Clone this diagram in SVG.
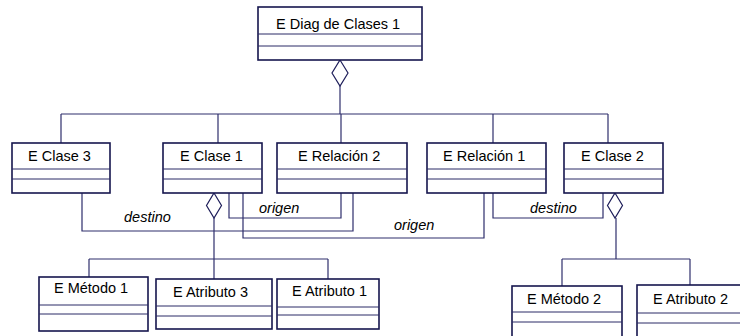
<svg xmlns="http://www.w3.org/2000/svg" width="740" height="336" viewBox="0 0 740 336">
<style>
.box{fill:#fff;stroke:#16164e;stroke-width:1.6}
.div{stroke:#2a2a66;stroke-width:1}
.ln{fill:none;stroke:#2e2e6c;stroke-width:1.2}
.dia{fill:#fff;stroke:#1e1e5a;stroke-width:1.2}
text{font-family:"Liberation Sans",Arial,sans-serif;font-size:14.5px;fill:#000}
.lbl{font-style:italic}
</style>
<rect width="740" height="336" fill="#fff"/>
<g id="connectors">
<polygon class="dia" points="340,60 348,73 340,86 332,73"/>
<polyline class="ln" points="340,86 340,114"/>
<polyline class="ln" points="61,114 608,114"/>
<polyline class="ln" points="61,114 61,143"/>
<polyline class="ln" points="218,114 218,143"/>
<polyline class="ln" points="341,114 341,143"/>
<polyline class="ln" points="493,114 493,143"/>
<polyline class="ln" points="608,114 608,143"/>
<polygon class="dia" points="214,193 221.5,205.5 214,218 206.5,205.5"/>
<polyline class="ln" points="214,218 214,259"/>
<polyline class="ln" points="89,259 328,259"/>
<polyline class="ln" points="89,259 89,277"/>
<polyline class="ln" points="214,259 214,279"/>
<polyline class="ln" points="328,259 328,279"/>
<polygon class="dia" points="615,193 622.5,205.5 615,218 607.5,205.5"/>
<polyline class="ln" points="616,218 616,259"/>
<polyline class="ln" points="562,259 690,259"/>
<polyline class="ln" points="562,259 562,286"/>
<polyline class="ln" points="690,259 690,285"/>
<polyline class="ln" points="82,193 82,231 353,231 353,193"/>
<polyline class="ln" points="229,193 229,218 341,218 341,193"/>
<polyline class="ln" points="243,193 243,238 484,238 484,193"/>
<polyline class="ln" points="493,193 493,218 603,218 603,193"/>
<text class="lbl" x="124" y="222">destino</text>
<text class="lbl" x="259" y="213">origen</text>
<text class="lbl" x="394" y="230">origen</text>
<text class="lbl" x="530" y="213">destino</text>
</g>
<g id="diag">
<rect class="box" x="258" y="7" width="164" height="53"/>
<line class="div" x1="258" y1="34" x2="422" y2="34"/>
<line class="div" x1="258" y1="46" x2="422" y2="46"/>
<text x="276" y="29">E Diag de Clases 1</text>
</g>
<g id="clase3">
<rect class="box" x="12" y="143" width="98" height="50"/>
<line class="div" x1="12" y1="169" x2="110" y2="169"/>
<line class="div" x1="12" y1="179" x2="110" y2="179"/>
<text x="28" y="161">E Clase 3</text>
</g>
<g id="clase1">
<rect class="box" x="163" y="143" width="99" height="50"/>
<line class="div" x1="163" y1="169" x2="262" y2="169"/>
<line class="div" x1="163" y1="179" x2="262" y2="179"/>
<text x="180" y="161">E Clase 1</text>
</g>
<g id="relacion2">
<rect class="box" x="277" y="143" width="130" height="50"/>
<line class="div" x1="277" y1="169" x2="407" y2="169"/>
<line class="div" x1="277" y1="179" x2="407" y2="179"/>
<text x="298" y="161">E Relación 2</text>
</g>
<g id="relacion1">
<rect class="box" x="427" y="143" width="119" height="50"/>
<line class="div" x1="427" y1="169" x2="546" y2="169"/>
<line class="div" x1="427" y1="179" x2="546" y2="179"/>
<text x="443" y="161">E Relación 1</text>
</g>
<g id="clase2">
<rect class="box" x="564" y="143" width="99" height="50"/>
<line class="div" x1="564" y1="169" x2="663" y2="169"/>
<line class="div" x1="564" y1="179" x2="663" y2="179"/>
<text x="581" y="161">E Clase 2</text>
</g>
<g id="metodo1">
<rect class="box" x="39" y="277" width="109" height="54"/>
<line class="div" x1="39" y1="305" x2="148" y2="305"/>
<line class="div" x1="39" y1="314" x2="148" y2="314"/>
<text x="54" y="293">E Método 1</text>
</g>
<g id="atributo3">
<rect class="box" x="156" y="279" width="116" height="50"/>
<line class="div" x1="156" y1="306" x2="272" y2="306"/>
<line class="div" x1="156" y1="316" x2="272" y2="316"/>
<text x="173" y="297">E Atributo 3</text>
</g>
<g id="atributo1">
<rect class="box" x="277" y="279" width="102" height="50"/>
<line class="div" x1="277" y1="307" x2="379" y2="307"/>
<line class="div" x1="277" y1="315" x2="379" y2="315"/>
<text x="292" y="296">E Atributo 1</text>
</g>
<g id="metodo2">
<rect class="box" x="512" y="286" width="110" height="60"/>
<line class="div" x1="512" y1="312" x2="622" y2="312"/>
<line class="div" x1="512" y1="322" x2="622" y2="322"/>
<text x="527" y="304">E Método 2</text>
</g>
<g id="atributo2">
<rect class="box" x="637" y="285" width="110" height="60"/>
<line class="div" x1="637" y1="313" x2="747" y2="313"/>
<line class="div" x1="637" y1="323" x2="747" y2="323"/>
<text x="653" y="304">E Atributo 2</text>
</g>
</svg>
